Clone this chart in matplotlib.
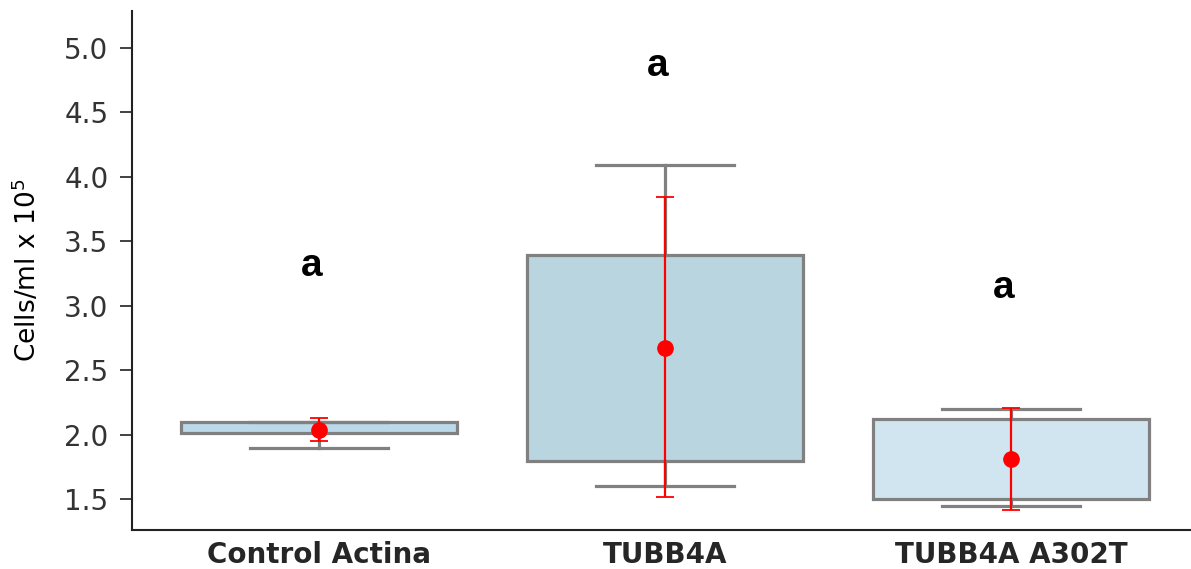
import numpy as np
import matplotlib.pyplot as plt

# box statistics per group (Cells/ml x 10^5)
groups = ["Control Actina", "TUBB4A", "TUBB4A A302T"]
q1 = [2.01, 1.80, 1.50]
q3 = [2.10, 3.39, 2.12]
whislo = [1.90, 1.60, 1.45]
whishi = [2.10, 4.09, 2.20]
medians = [2.05, 2.60, 1.80]

# mean and error bar ends
means = [2.04, 2.67, 1.81]
err_low = [1.95, 1.52, 1.42]
err_high = [2.13, 3.84, 2.21]

letters = ["a", "a", "a"]
letter_y = [3.31, 4.86, 3.14]

box_colors = ["#bcd9ea", "#b9d6e0", "#d1e5f0"]

fig = plt.figure(figsize=(11.91, 5.69), dpi=100)
ax = fig.add_axes([0.111, 0.068, 0.889, 0.912])

stats = []
for i in range(len(groups)):
    stats.append(dict(label=groups[i], q1=q1[i], q3=q3[i], med=medians[i],
                      whislo=whislo[i], whishi=whishi[i], fliers=[]))

pos = np.arange(len(groups))
bp = ax.bxp(stats, positions=pos, widths=0.8, patch_artist=True,
            showfliers=False,
            boxprops=dict(edgecolor="#808080", linewidth=2.3),
            whiskerprops=dict(color="#808080", linewidth=2.3),
            capprops=dict(color="#808080", linewidth=2.3),
            medianprops=dict(linewidth=0))
for patch, c in zip(bp["boxes"], box_colors):
    patch.set_facecolor(c)
for cap in bp["caps"]:
    x0, x1 = cap.get_xdata()
    mid = (x0 + x1) / 2
    cap.set_xdata([mid - 0.2, mid + 0.2])

means = np.array(means)
yerr = [means - np.array(err_low), np.array(err_high) - means]
ax.errorbar(pos, means, yerr=yerr, fmt="o", color="red", ecolor="red",
            markersize=11, elinewidth=1.6, capsize=6.5, capthick=1.3,
            zorder=5)

for i in range(len(groups)):
    ax.text(pos[i] - 0.02, letter_y[i], letters[i], ha="center", va="center",
            fontsize=28, fontweight="bold", family="Liberation Sans")

ax.set_xlim(-0.54, 2.52)
ax.set_ylim(1.26, 5.28)
ax.set_yticks([1.5, 2.0, 2.5, 3.0, 3.5, 4.0, 4.5, 5.0])
ax.set_xticks(pos)
ax.set_xticklabels(groups, fontweight="bold", fontsize=20)
ax.tick_params(axis="x", length=0, pad=8, labelcolor="#262626")
ax.tick_params(axis="y", labelsize=20, labelcolor="#333333", length=9,
               width=1.3, color="#333333", pad=8)
ax.set_ylabel("Cells/ml x 10$^5$", fontsize=19, labelpad=16)
for s in ["top", "right"]:
    ax.spines[s].set_visible(False)
for s in ["left", "bottom"]:
    ax.spines[s].set_linewidth(1.5)
    ax.spines[s].set_color("#222222")

fig.savefig("out.png", dpi=100)
